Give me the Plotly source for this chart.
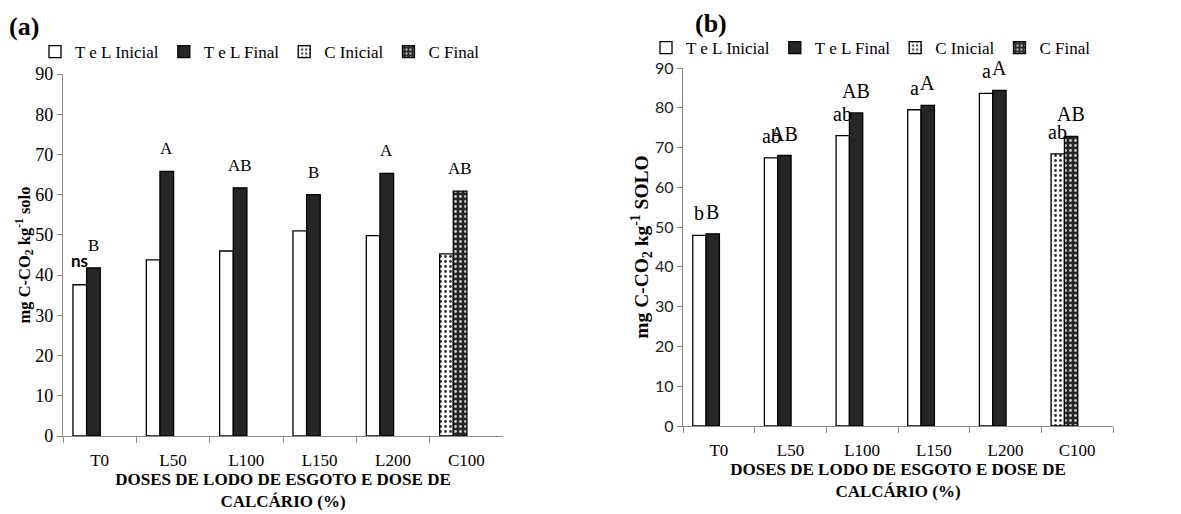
import plotly.graph_objects as go

categories = ["T0", "L50", "L100", "L150", "L200", "C100"]

# Panel (a)
a_inicial = [37.6, 43.8, 46.0, 51.0, 49.8, 45.3]
a_final = [41.8, 65.8, 61.7, 60.0, 65.3, 60.9]
a_labels_final = ["B", "A", "AB", "B", "A", "AB"]
a_label_ns = "ns"

# Panel (b)
b_inicial = [47.9, 67.4, 73.0, 79.5, 83.6, 68.4]
b_final = [48.3, 68.0, 78.7, 80.6, 84.4, 72.8]
b_labels_inicial = ["b", "ab", "ab", "a", "a", "ab"]
b_labels_final = ["B", "AB", "AB", "A", "A", "AB"]

y_ticks = [0, 10, 20, 30, 40, 50, 60, 70, 80, 90]
series_names = ["T e L Inicial", "T e L Final", "C Inicial", "C Final"]

SERIF = "Liberation Serif"
SANS = "Lato"
DARK = "#262626"
AXIS = "#8a8a8a"

BAR_W = 0.186
OFF_I = -0.364
OFF_F = OFF_I + BAR_W

W, H = 1181, 514
PAGE = 8  # page body margin


def px(sx):
    return (sx - PAGE) / W


def py(sy):
    return 1 - (sy - PAGE) / H


dom_a_x = [px(63), px(503)]
dom_a_y = [py(436), py(74)]
dom_b_x = [px(683), px(1113)]
dom_b_y = [py(426), py(68)]

fig = go.Figure()


def add_panel(ini, fin, xa, ya, legend):
    tl_x, tl_ini, tl_fin = categories[:5], ini[:5], fin[:5]
    c_x, c_ini, c_fin = categories[5:], ini[5:], fin[5:]
    line = dict(color="black", width=1.3)
    fig.add_trace(go.Bar(x=tl_x, y=tl_ini, name=series_names[0], xaxis=xa, yaxis=ya,
                         legend=legend, offset=OFF_I, width=BAR_W,
                         marker=dict(color="white", line=line)))
    fig.add_trace(go.Bar(x=tl_x, y=tl_fin, name=series_names[1], xaxis=xa, yaxis=ya,
                         legend=legend, offset=OFF_F, width=BAR_W,
                         marker=dict(color=DARK, line=line)))
    fig.add_trace(go.Bar(x=c_x, y=c_ini, name=series_names[2], xaxis=xa, yaxis=ya,
                         legend=legend, offset=OFF_I, width=BAR_W,
                         marker=dict(color="white", line=line,
                                     pattern=dict(shape=".", bgcolor="white", fgcolor="#333333",
                                                  size=5, solidity=0.25))))
    fig.add_trace(go.Bar(x=c_x, y=c_fin, name=series_names[3], xaxis=xa, yaxis=ya,
                         legend=legend, offset=OFF_F, width=BAR_W,
                         marker=dict(color=DARK, line=line,
                                     pattern=dict(shape=".", bgcolor=DARK, fgcolor="#c8c8c8",
                                                  size=5, solidity=0.25))))


add_panel(a_inicial, a_final, "x", "y", "legend")
add_panel(b_inicial, b_final, "x2", "y2", "legend2")

annotations = []
for i, cat in enumerate(categories):
    annotations.append(dict(x=i + OFF_F + BAR_W / 2, y=a_final[i], xref="x", yref="y",
                            text=a_labels_final[i], showarrow=False, yanchor="bottom",
                            yshift=11, font=dict(family=SERIF, size=17, color="black")))
    annotations.append(dict(x=i + OFF_I + BAR_W / 2, y=b_inicial[i], xref="x2", yref="y2",
                            text=b_labels_inicial[i], showarrow=False, yanchor="bottom",
                            yshift=9, font=dict(family=SERIF, size=20, color="black")))
    annotations.append(dict(x=i + OFF_F + BAR_W / 2, y=b_final[i], xref="x2", yref="y2",
                            text=b_labels_final[i], showarrow=False, yanchor="bottom",
                            yshift=9, font=dict(family=SERIF, size=20, color="black")))
annotations.append(dict(x=0 + OFF_I + BAR_W / 2, y=a_inicial[0], xref="x", yref="y",
                        text="<b>" + a_label_ns + "</b>", showarrow=False, yanchor="bottom",
                        yshift=12, font=dict(family=SANS, size=17, color="black")))
annotations.append(dict(x=px(7), y=py(27), xref="paper", yref="paper", text="<b>(a)</b>",
                        showarrow=False, xanchor="left", yanchor="middle",
                        font=dict(family=SERIF, size=26, color="black")))
annotations.append(dict(x=px(693), y=py(23), xref="paper", yref="paper", text="<b>(b)</b>",
                        showarrow=False, xanchor="left", yanchor="middle",
                        font=dict(family=SERIF, size=26, color="black")))

xaxis_common = dict(type="category", categoryorder="array", categoryarray=categories,
                    range=[-0.5, 5.5], showline=True, linecolor=AXIS, linewidth=1.3,
                    ticks="outside", tickson="boundaries", ticklen=6, tickcolor=AXIS,
                    showgrid=False, zeroline=False, ticklabelstandoff=8, automargin=False,
                    tickfont=dict(family=SERIF, size=17, color="black"))
yaxis_common = dict(range=[0, 90], tickvals=y_ticks, showline=True, linecolor=AXIS,
                    linewidth=1.3, ticks="outside", ticklen=5, tickcolor=AXIS,
                    showgrid=False, zeroline=False, automargin=False)

xtitle = "<b>DOSES DE LODO DE ESGOTO E DOSE DE<br>CALCÁRIO (%)</b>"

fig.update_layout(
    template="none",
    width=W, height=H, margin=dict(l=0, r=0, t=0, b=0),
    paper_bgcolor="white", plot_bgcolor="white", barmode="overlay",
    xaxis=dict(domain=dom_a_x, anchor="y", **xaxis_common,
               title=dict(text=xtitle, standoff=2,
                          font=dict(family=SERIF, size=17, color="black"))),
    yaxis=dict(domain=dom_a_y, anchor="x", **yaxis_common,
               tickfont=dict(family=SERIF, size=18, color="black"),
               title=dict(text="<b>mg C-CO<sub>2</sub> kg<sup>-1</sup> solo</b>", standoff=0,
                          font=dict(family=SERIF, size=16.5, color="black"))),
    xaxis2=dict(domain=dom_b_x, anchor="y2", **xaxis_common,
                title=dict(text=xtitle, standoff=2,
                           font=dict(family=SERIF, size=17, color="black"))),
    yaxis2=dict(domain=dom_b_y, anchor="x2", **yaxis_common,
                tickfont=dict(family=SANS, size=16, color="#222222"),
                title=dict(text="<b>mg C-CO<sub>2</sub> kg<sup>-1</sup> SOLO</b>", standoff=0,
                           font=dict(family=SERIF, size=19.5, color="black"))),
    legend=dict(orientation="h", x=px(35), y=py(52), xanchor="left", yanchor="middle",
                font=dict(family=SERIF, size=17, color="black"), itemwidth=30,
                tracegroupgap=0, bgcolor="rgba(0,0,0,0)", traceorder="normal"),
    legend2=dict(orientation="h", x=px(646), y=py(48), xanchor="left", yanchor="middle",
                 font=dict(family=SERIF, size=17, color="black"), itemwidth=30,
                 tracegroupgap=0, bgcolor="rgba(0,0,0,0)", traceorder="normal"),
    annotations=annotations,
    showlegend=True,
)

fig.write_html("out.html")
